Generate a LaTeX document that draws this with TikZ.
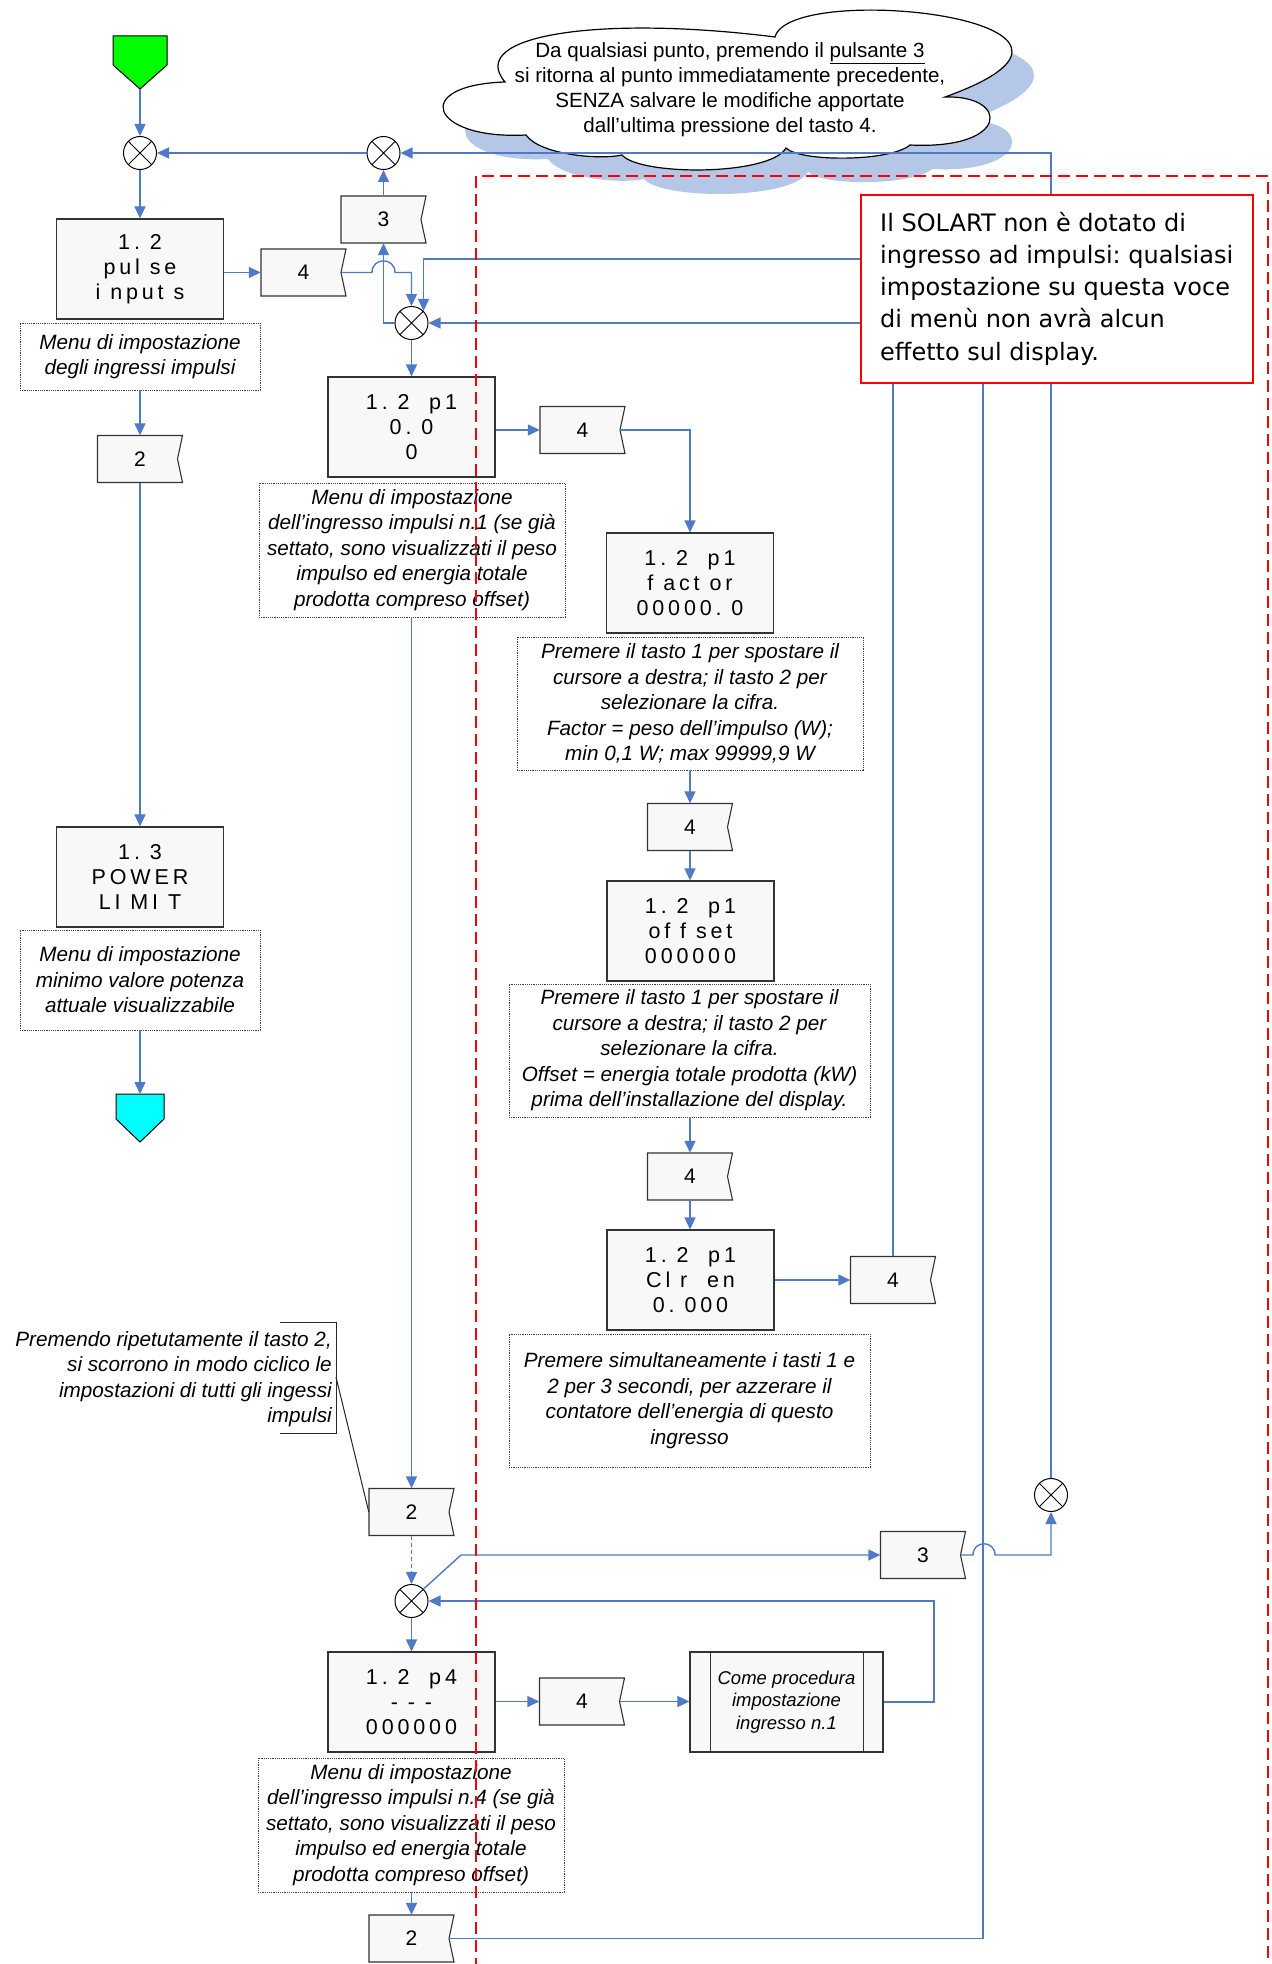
\documentclass[tikz,border=0pt]{standalone}
\usepackage{fontspec}
\setmainfont{Liberation Sans}
\newfontfamily\lcdfont[LetterSpace=18]{Liberation Sans}
\newfontfamily\redfont{DejaVu Sans}
\usetikzlibrary{arrows.meta,calc}
\definecolor{cblue}{RGB}{78,122,199}
\definecolor{boxfill}{RGB}{248,248,248}
\definecolor{shadowblue}{RGB}{180,199,231}
\definecolor{sgreen}{RGB}{0,255,0}
\definecolor{scyan}{RGB}{0,255,255}
\definecolor{sred}{RGB}{255,0,0}
\frenchspacing
\newcommand\boxfont{\lcdfont\fontsize{21.5}{25}\selectfont}
\newcommand\notefont{\itshape\fontsize{20.7}{25.5}\selectfont}
\newcommand\tagfont{\fontsize{21}{25}\selectfont}
\newcommand\tagnode[4]{%
  \path[tagline] ({#2-42.5},{#3-23.5}) -- ({#2+42.5},{#3-23.5}) -- ({#2+37.5},{#3}) -- ({#2+42.5},{#3+23.5}) -- ({#2-42.5},{#3+23.5}) -- cycle;
  \node[tagtext] (#1) at (#2,#3) {#4};}
\newcommand\cloudoutline{(526,135) .. controls (430,140) and (410,85) .. (505,82)
  .. controls (465,35) and (600,15) .. (775,37)
  .. controls (790,-20) and (1160,20) .. (945,97)
  .. controls (1010,95) and (1010,150) .. (910,145)
  .. controls (890,162) and (800,162) .. (786,148)
  .. controls (770,176) and (640,176) .. (622,155)
  .. controls (600,160) and (540,155) .. (526,135) -- cycle}
\tikzset{
  conn/.style={draw=cblue, line width=1.4pt},
  arr/.style={-{Triangle[length=12pt,width=11pt]}},
  dispbox/.style={draw=black!80, line width=1.1pt, fill=boxfill, minimum width=167pt, minimum height=100pt, inner sep=0pt, align=center, font=\boxfont},
  notebox/.style={draw=black!75, line width=0.9pt, dash pattern=on 1.2pt off 1pt, fill=white, inner sep=0pt, align=center, font=\notefont},
  tagtext/.style={minimum width=85pt, minimum height=47pt, inner sep=0pt, font=\tagfont},
  tagline/.style={draw=black!80, line width=1.1pt, fill=boxfill},
  xcirc/.style={circle, draw=black, line width=1pt, minimum size=33pt, inner sep=0pt, fill=white,
    path picture={\draw[line width=0.8pt] (path picture bounding box.north west) -- (path picture bounding box.south east)
      (path picture bounding box.north east) -- (path picture bounding box.south west);}},
}
\begin{document}
\begin{tikzpicture}[x=1pt,y=-1pt]
\useasboundingbox (0,0) rectangle (1271,1964);
\fill[white] (0,0) rectangle (1271,1964);

% cloud
\fill[shadowblue, shift={(22,24)}] \cloudoutline;
\draw[black, line width=1.2pt, fill=white] \cloudoutline;
\node[align=center, font=\fontsize{20.6}{25}\selectfont] (cloudtext) at (730,90)
  {Da qualsiasi punto, premendo il \underline{pulsante 3}\\si ritorna al punto immediatamente precedente,\\SENZA salvare le modifiche apportate\\dall’ultima pressione del tasto 4.};

% start / end
\draw[fill=sgreen, line width=1pt] (113,36) -- (167,36) -- (167,65) -- (140,89) -- (113,65) -- cycle;
\coordinate (gtip) at (140,89);
\draw[fill=scyan, line width=1pt] (116,1094) -- (164,1094) -- (164,1119) -- (140,1142) -- (116,1119) -- cycle;
\coordinate (etop) at (140,1094);

% junctions
\node[xcirc] (c1) at (140,153) {};
\node[xcirc] (c2) at (383.5,153) {};
\node[xcirc] (c3) at (411.5,323) {};
\node[xcirc] (c4) at (1051,1495) {};
\node[xcirc] (c5) at (411.5,1601) {};

% display boxes
\node[dispbox] (pulse) at (140,269) {1.\ 2\\pul se\\i nput s};
\node[dispbox] (power) at (140,877) {1.\ 3\\POWER\\LI MI T};
\node[dispbox] (p1) at (411.5,427) {1.\ 2\ \ p1\\0.\ 0\\0};
\node[dispbox] (factor) at (690,583) {1.\ 2\ \ p1\\f act or\\00000.\ 0};
\node[dispbox] (offset) at (690.5,931) {1.\ 2\ \ p1\\of f set\\000000};
\node[dispbox] (clr) at (690.5,1280) {1.\ 2\ \ p1\\Cl r\ \ en\\0.\ 000};
\node[dispbox] (p4) at (411.5,1702) {1.\ 2\ \ p4\\- - -\\000000};
\node[draw=black!80, line width=1.1pt, fill=boxfill, minimum width=193pt, minimum height=100pt, inner sep=0pt, align=center, font=\itshape\fontsize{18.5}{22.5}\selectfont] (come) at (786.5,1702) {Come procedura\\impostazione\\ingresso n.1};
\draw[black!80, line width=1.1pt] ([xshift=21pt]come.north west) -- ([xshift=21pt]come.south west)
  ([xshift=-20pt]come.north east) -- ([xshift=-20pt]come.south east);

% tags
\tagnode{t4a}{303.5}{272.5}{4}
\tagnode{t3a}{383.5}{219.5}{3}
\tagnode{t2L}{140}{459}{2}
\tagnode{t4b}{582.5}{430}{4}
\tagnode{t4c}{690}{827}{4}
\tagnode{t4d}{690}{1176.5}{4}
\tagnode{t4e}{893}{1280}{4}
\tagnode{t2a}{411.5}{1512}{2}
\tagnode{t3b}{923}{1555}{3}
\tagnode{t4f}{582}{1701.5}{4}
\tagnode{t2b}{411.5}{1938.5}{2}

% notes
\node[notebox, minimum width=240pt, minimum height=67pt] (n1) at (140,356.5) {Menu di impostazione\\degli ingressi impulsi};
\node[notebox, minimum width=240pt, minimum height=100pt] (n7) at (140,980) {Menu di impostazione\\minimo valore potenza\\attuale visualizzabile};
\node[notebox, minimum width=306pt, minimum height=134pt] (n2) at (412,550) {Menu di impostazione\\dell’ingresso impulsi n.1 (se già\\settato, sono visualizzati il peso\\impulso ed energia totale\\prodotta compreso offset)};
\node[notebox, minimum width=346pt, minimum height=133pt] (n3) at (690,703.5) {Premere il tasto 1 per spostare il\\cursore a destra; il tasto 2 per\\selezionare la cifra.\\Factor = peso dell’impulso (W);\\min 0,1 W; max 99999,9 W};
\node[notebox, minimum width=361pt, minimum height=133pt] (n4) at (689.5,1050.5) {Premere il tasto 1 per spostare il\\cursore a destra; il tasto 2 per\\selezionare la cifra.\\Offset = energia totale prodotta (kW)\\prima dell’installazione del display.};
\node[notebox, minimum width=361pt, minimum height=133pt] (n5) at (689.5,1400.5) {Premere simultaneamente i tasti 1 e\\2 per 3 secondi, per azzerare il\\contatore dell’energia di questo\\ingresso};
\node[notebox, minimum width=306pt, minimum height=134pt] (n6) at (411,1825) {Menu di impostazione\\dell’ingresso impulsi n.4 (se già\\settato, sono visualizzati il peso\\impulso ed energia totale\\prodotta compreso offset)};

% annotation
\node[anchor=east, align=right, font=\notefont, inner sep=0pt] (annot) at (332,1379) {Premendo ripetutamente il tasto 2,\\si scorrono in modo ciclico le\\impostazioni di tutti gli ingessi\\impulsi};
\draw[black!85, line width=1pt] (279.5,1322) -- (336,1322) -- (336,1433) -- (279.5,1433);
\draw[black!85, line width=1pt] (336,1377) -- (t2a.west);

% connectors
\draw[conn,arr] (gtip) -- (c1.north);
\draw[conn,arr] (c1.south) -- (pulse.north);
\draw[conn,arr] (pulse.east |- t4a) -- (t4a.west);
\draw[conn,arr] ([xshift=-5pt]t4a.east) -- (372,272.5) .. controls (372,257) and (395,257) .. (395,272.5) -- (c3.north |- t4a) -- (c3.north);
\draw[conn,arr] (t3a.north) -- (c2.south);
\draw[conn,arr] (c3.west) -- (t3a.south |- c3.west) -- (t3a.south);
\draw[conn,arr] (c2.west) -- (c1.east);
\draw[conn,arr] (c4.north) -- (c4.north |- c2.east) -- (c2.east);
\draw[conn,arr] (c3.south) -- (p1.north);
\draw[conn,arr] (p1.east |- t4b) -- (t4b.west);
\draw[conn,arr] ([xshift=-5pt]t4b.east) -- (factor.north |- t4b) -- (factor.north);
\draw[conn,arr] (t4c.north |- n3.south) -- (t4c.north);
\draw[conn,arr] (t4c.south) -- (offset.north -| t4c.south);
\draw[conn,arr] (t4d.north |- n4.south) -- (t4d.north);
\draw[conn,arr] (t4d.south) -- (clr.north -| t4d.south);
\draw[conn,arr] (clr.east |- t4e) -- (t4e.west);
\coordinate (j1) at (893,323);
\draw[conn,arr] (t4e.north) -- (j1) -- (c3.east);
\coordinate (j2) at (983,1938.5);
\coordinate (j3) at (983,259);
\draw[conn,arr] ([xshift=-5pt]t2b.east) -- (j2) -- (j3) -- (c3.north east |- j3) -- (c3.north east);
\draw[conn,arr] (t2a.north |- n2.south) -- (t2a.north);
\draw[conn,arr,line width=1pt,dash pattern=on 4pt off 3pt] (t2a.south) -- (c5.north);
\draw[conn,arr] (c5.north east) -- (461,1555) -- (t3b.west);
\draw[conn,arr] ([xshift=-5pt]t3b.east) -- (973,1555) .. controls (973,1540) and (995,1540) .. (995,1555) -- (c4.south |- t3b) -- (c4.south);
\draw[conn,arr] (c5.south) -- (p4.north);
\draw[conn,arr] (p4.east |- t4f) -- (t4f.west);
\draw[conn,arr] ([xshift=-5pt]t4f.east) -- (come.west |- t4f);
\coordinate (j4) at (934,1702);
\coordinate (j5) at (934,1601);
\draw[conn,arr] (come.east) -- (j4) -- (j5) -- (c5.east);
\draw[conn,arr] (t2b.north |- n6.south) -- (t2b.north);
\draw[conn,arr] (n1.south) -- (t2L.north);
\draw[conn,arr] (t2L.south) -- (power.north);
\draw[conn,arr] (n7.south) -- (etop);

% red dashed frame
\draw[sred, line width=2pt, dash pattern=on 12pt off 6pt] (476,1970) -- (476,176) -- (1268,176) -- (1268,1970);

% red box
\node[draw=sred, line width=2.5pt, fill=white, minimum width=392pt, minimum height=188pt, inner sep=0pt] (redbox) at (1057,289) {};
\node[anchor=west, align=left, inner sep=0pt, font=\redfont\fontsize{24}{32.2}\selectfont] (redtext) at (880,288.5)
  {Il SOLART non è dotato di\\ingresso ad impulsi: qualsiasi\\impostazione su questa voce\\di menù non avrà alcun\\effetto sul display.};
\end{tikzpicture}
\end{document}
